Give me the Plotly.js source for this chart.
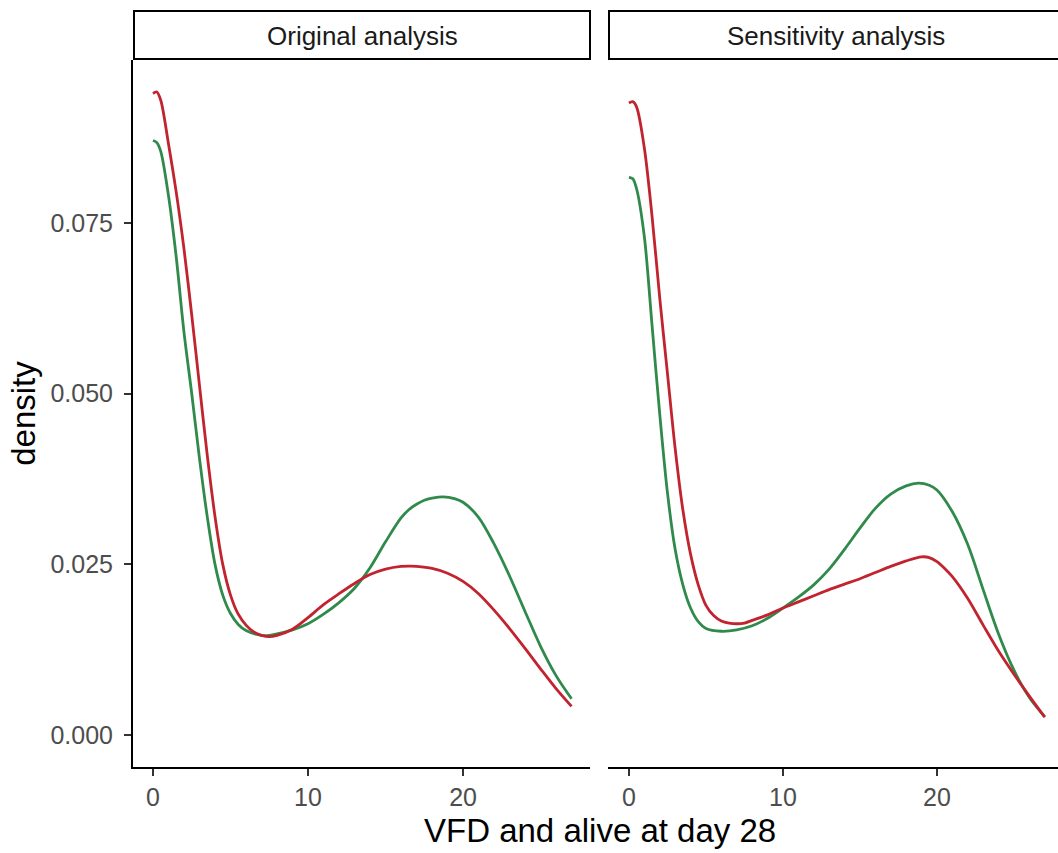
<!DOCTYPE html>
<html>
<head>
<meta charset="utf-8">
<script src="https://cdn.plot.ly/plotly-3.0.1.min.js"></script>
<style>html,body{margin:0;padding:0;background:#fff;}#chart{width:1058px;height:853px;}</style>
</head>
<body>
<div id="chart"></div>
<script>
// Panel labels
var panels = ["Original analysis", "Sensitivity analysis"];
var seriesColors = {green: "#2f8a4b", red: "#c1232f"};

// Original analysis – green curve
var origGreenX = [0, 0.25, 0.5, 1, 1.5, 2, 2.5, 3, 3.5, 4, 4.5, 5, 5.5, 6, 7, 7.5, 8, 9, 10, 11, 12, 13, 14, 15, 16, 16.5, 17, 17.5, 18, 18.7, 19.5, 20, 21, 22, 23, 24, 25, 26, 27];
var origGreenY = [0.0871, 0.0868, 0.0855, 0.0790, 0.0700, 0.0590, 0.0500, 0.0405, 0.0320, 0.0250, 0.0205, 0.0178, 0.0162, 0.0153, 0.0146, 0.0146, 0.0148, 0.0154, 0.0163, 0.0177, 0.0194, 0.0215, 0.0245, 0.0283, 0.0318, 0.0330, 0.0338, 0.0344, 0.0347, 0.0349, 0.0346, 0.0341, 0.0319, 0.0280, 0.0233, 0.0181, 0.0130, 0.0087, 0.0053];

// Original analysis – red curve
var origRedX = [0, 0.25, 0.5, 1, 1.5, 2, 2.5, 3, 3.5, 4, 4.5, 5, 5.5, 6, 6.5, 7, 7.5, 8, 9, 10, 11, 12, 13, 14, 15, 16, 16.6, 17, 18, 19, 20, 21, 22, 23, 24, 25, 26, 27];
var origRedY = [0.0940, 0.0942, 0.0930, 0.0866, 0.0795, 0.0712, 0.0615, 0.0512, 0.0410, 0.0320, 0.0250, 0.0205, 0.0177, 0.0161, 0.0151, 0.0146, 0.0144, 0.0146, 0.0155, 0.0172, 0.0191, 0.0207, 0.0222, 0.0235, 0.0243, 0.0247, 0.02475, 0.0247, 0.0244, 0.0237, 0.0225, 0.0207, 0.0183, 0.0156, 0.0127, 0.0097, 0.0068, 0.0042];

// Sensitivity analysis – green curve
var sensGreenX = [0, 0.25, 0.5, 1, 1.5, 2, 2.5, 3, 3.5, 4, 4.5, 5, 6, 7, 8, 9, 10, 11, 12, 13, 14, 15, 16, 17, 18, 18.8, 19.5, 20, 21, 22, 23, 24, 25, 26, 27];
var sensGreenY = [0.0817, 0.0815, 0.0800, 0.0730, 0.0600, 0.0470, 0.0355, 0.0272, 0.0220, 0.0186, 0.0166, 0.0156, 0.0152, 0.0154, 0.0160, 0.0171, 0.0186, 0.0202, 0.0220, 0.0243, 0.0272, 0.0303, 0.0332, 0.0353, 0.0365, 0.0369, 0.0366, 0.0359, 0.0327, 0.0279, 0.0213, 0.0148, 0.0095, 0.0055, 0.0027];

// Sensitivity analysis – red curve
var sensRedX = [0, 0.25, 0.5, 1, 1.5, 2, 2.5, 3, 3.5, 4, 4.5, 5, 5.5, 6, 6.5, 7, 7.5, 8, 9, 10, 11, 12, 13, 14, 15, 16, 17, 18, 19, 19.5, 20, 20.5, 21, 22, 23, 24, 25, 26, 27];
var sensRedY = [0.0926, 0.0928, 0.0920, 0.0860, 0.0760, 0.0640, 0.0530, 0.0420, 0.0330, 0.0265, 0.0220, 0.0190, 0.0175, 0.0167, 0.0164, 0.0163, 0.0164, 0.0168, 0.0176, 0.0186, 0.0195, 0.0204, 0.0213, 0.0221, 0.0229, 0.0238, 0.0247, 0.0255, 0.0261, 0.0260, 0.0254, 0.0244, 0.0232, 0.0200, 0.0161, 0.0123, 0.0089, 0.0057, 0.0026];

// Axis ticks
var yTickVals = [0, 0.025, 0.05, 0.075];
var yTickText = ["0.000", "0.025", "0.050", "0.075"];
var xTickVals = [0, 10, 20];
var xTickText = ["0", "10", "20"];

var W = 1058, H = 853;
function px(x) { return x / W; }
function py(y) { return (H - y) / H; }

var lineW = 2.8;
function tr(x, y, color, xa, ya) {
  return {x: x, y: y, type: "scatter", mode: "lines", xaxis: xa, yaxis: ya,
    line: {color: color, width: lineW, shape: "spline", smoothing: 0.9},
    hoverinfo: "skip", showlegend: false};
}

var data = [
  tr(origGreenX, origGreenY, seriesColors.green, "x", "y"),
  tr(origRedX, origRedY, seriesColors.red, "x", "y"),
  tr(sensGreenX, sensGreenY, seriesColors.green, "x2", "y2"),
  tr(sensRedX, sensRedY, seriesColors.red, "x2", "y2")
];

var yRange = [-0.00469, 0.0989];
var FONT = "Liberation Sans, Arial, sans-serif";
var tickFont = {family: FONT, size: 25, color: "#4d4d4d"};

var layout = {
  width: W, height: H,
  margin: {l: 0, r: 0, t: 0, b: 0},
  paper_bgcolor: "#ffffff", plot_bgcolor: "#ffffff",
  showlegend: false,
  xaxis: {
    domain: [px(133), px(590)], range: [-1.29, 28.19], anchor: "y",
    showgrid: false, zeroline: false, showline: true, linecolor: "#000", linewidth: 2,
    ticks: "outside", ticklen: 7, tickwidth: 2, tickcolor: "#333",
    tickvals: xTickVals, ticktext: xTickText, tickfont: tickFont, ticklabelstandoff: 0
  },
  xaxis2: {
    domain: [px(608), 1], range: [-1.36, 27.86], anchor: "y2",
    showgrid: false, zeroline: false, showline: true, linecolor: "#000", linewidth: 2,
    ticks: "outside", ticklen: 7, tickwidth: 2, tickcolor: "#333",
    tickvals: xTickVals, ticktext: xTickText, tickfont: tickFont, ticklabelstandoff: 0
  },
  yaxis: {
    domain: [py(767), py(60)], range: yRange, anchor: "x",
    showgrid: false, zeroline: false, showline: true, linecolor: "#000", linewidth: 2,
    ticks: "outside", ticklen: 7, tickwidth: 2, tickcolor: "#333",
    tickvals: yTickVals, ticktext: yTickText, tickfont: tickFont, ticklabelstandoff: 6,
    title: {text: "density", font: {family: FONT, size: 33, color: "#000"}, standoff: 5}
  },
  yaxis2: {
    domain: [py(767), py(60)], range: yRange, anchor: "x2",
    showgrid: false, zeroline: false, showline: false, showticklabels: false, ticks: ""
  },
  shapes: [
    {type: "rect", xref: "paper", yref: "paper", x0: px(134), x1: px(590), y0: py(59), y1: py(11),
     line: {color: "#000", width: 2}, fillcolor: "#fff", layer: "above"},
    {type: "rect", xref: "paper", yref: "paper", x0: px(609), x1: px(1064), y0: py(59), y1: py(11),
     line: {color: "#000", width: 2}, fillcolor: "#fff", layer: "above"}
  ],
  annotations: [
    {text: panels[0], xref: "paper", yref: "paper", x: px(362), y: py(36), xanchor: "center", yanchor: "middle",
     showarrow: false, font: {family: FONT, size: 26, color: "#1a1a1a"}},
    {text: panels[1], xref: "paper", yref: "paper", x: px(836), y: py(36), xanchor: "center", yanchor: "middle",
     showarrow: false, font: {family: FONT, size: 26, color: "#1a1a1a"}},
    {text: "VFD and alive at day 28", xref: "paper", yref: "paper", x: px(600), y: py(830), xanchor: "center", yanchor: "middle",
     showarrow: false, font: {family: FONT, size: 33, color: "#000"}}
  ]
};

Plotly.newPlot("chart", data, layout, {displayModeBar: false, staticPlot: true});
</script>
</body>
</html>
